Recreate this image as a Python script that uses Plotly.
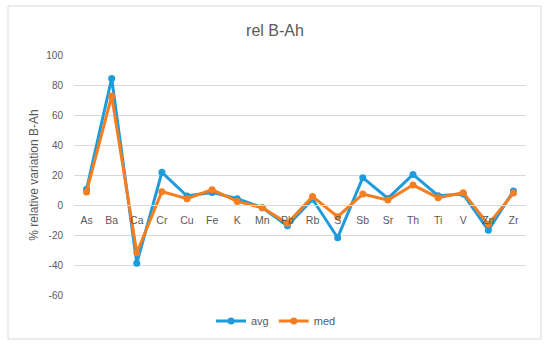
import plotly.graph_objects as go

categories = ["As", "Ba", "Ca", "Cr", "Cu", "Fe", "K", "Mn", "Pb", "Rb",
              "S", "Sb", "Sr", "Th", "Ti", "V", "Zn", "Zr"]
avg = [10.5, 84.4, -38.9, 21.8, 6.0, 8.4, 4.2, -1.8, -13.8, 3.8,
       -21.8, 18.2, 4.4, 20.4, 6.2, 7.3, -16.9, 9.3]
med = [8.7, 72.7, -31.8, 8.9, 4.2, 10.2, 2.4, -1.8, -12.2, 5.6,
       -7.8, 7.3, 3.3, 13.3, 4.9, 8.2, -12.9, 8.0]
y_ticks = [100, 80, 60, 40, 20, 0, -20, -40, -60]
y_tick_labels = [str(v) for v in y_ticks]

blue = "#1F9BDB"
orange = "#F57F20"
grey_text = "#595959"
font_family = "Liberation Sans"

fig = go.Figure()
fig.add_trace(go.Scatter(x=categories, y=avg, name="avg", mode="lines+markers",
                         line=dict(color=blue, width=3),
                         marker=dict(color=blue, size=7)))
fig.add_trace(go.Scatter(x=categories, y=med, name="med", mode="lines+markers",
                         line=dict(color=orange, width=3),
                         marker=dict(color=orange, size=7)))

L, R, T, B = 74, 24, 55, 54
W, H = 550, 349
pw, ph = W - L - R, H - T - B

def px_x(x):
    return (x - L) / pw

def px_y(y):
    return (H - B - y) / ph

fig.update_layout(
    width=W, height=H,
    margin=dict(l=L, r=R, t=T, b=B, autoexpand=False),
    paper_bgcolor="white", plot_bgcolor="white",
    font=dict(family=font_family, color=grey_text, size=10),
    title=dict(text="rel B-Ah", x=275 / W, xanchor="center", y=1 - 30 / H, yanchor="middle",
               font=dict(size=16, color=grey_text)),
    showlegend=True,
    legend=dict(orientation="h", xref="container", yref="container",
                x=276 / W, xanchor="center", y=1 - 321 / H, yanchor="middle",
                font=dict(size=11, color=grey_text),
                bgcolor="rgba(0,0,0,0)"),
    xaxis=dict(type="category", categoryorder="array", categoryarray=categories,
               anchor="free", position=px_y(205), showgrid=False, automargin=False,
               showline=True, linecolor="#D9D9D9", linewidth=1,
               ticks="outside", ticklen=5, tickcolor="rgba(0,0,0,0)",
               tickfont=dict(size=10.5, color=grey_text), zeroline=False,
               range=[-0.5, len(categories) - 0.5]),
    yaxis=dict(range=[-60, 100], tickvals=y_ticks, ticktext=y_tick_labels,
               showgrid=True, gridcolor="#D9D9D9",
               gridwidth=1, zeroline=False, showline=False, automargin=False,
               ticks="outside", ticklen=8, tickcolor="rgba(0,0,0,0)",
               tickfont=dict(size=10, color=grey_text),
               title=dict(text="% relative variation B-Ah", standoff=5,
                          font=dict(size=12, color=grey_text))),
    shapes=[dict(type="rect", xref="paper", yref="paper",
                 x0=px_x(8), x1=px_x(541), y0=px_y(339), y1=px_y(6),
                 line=dict(color="#D9D9D9", width=1), layer="below")],
)

fig.write_html("out.html", config={"displayModeBar": False},
               post_script="document.body.style.margin='0';")
